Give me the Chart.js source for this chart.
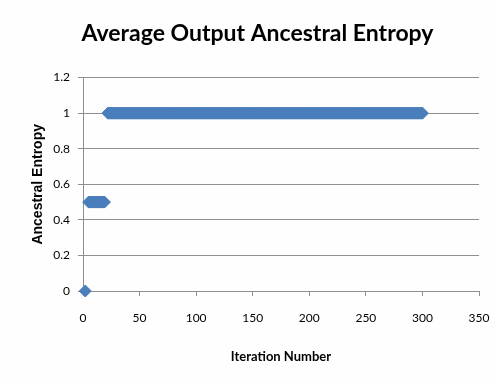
<!DOCTYPE html>
<html>
<head>
<meta charset="utf-8">
<script src="https://cdn.jsdelivr.net/npm/chart.js@4"></script>
<style>
html,body{margin:0;padding:0;background:#fdfefd;}
#wrap{width:495px;height:382px;}
</style>
</head>
<body>
<div id="wrap"><canvas id="c" width="495" height="382"></canvas></div>
<script>
const chartTitle = 'Average Output Ancestral Entropy';
const xAxisTitle = 'Iteration Number';
const yAxisTitle = 'Ancestral Entropy';

// entropy levels and the iterations at which each level is observed
const entropyLevels = [0, 0.5, 1];
const iterationsAtZero = [2];
const iterationsAtHalf = [5,6,7,8,9,10,11,12,13,14,15,16,17,18,19];
const iterationsAtOne = [
  22,23,24,25,26,27,28,29,30,31,32,33,34,35,36,37,38,39,40,41,
  42,43,44,45,46,47,48,49,50,51,52,53,54,55,56,57,58,59,60,61,
  62,63,64,65,66,67,68,69,70,71,72,73,74,75,76,77,78,79,80,81,
  82,83,84,85,86,87,88,89,90,91,92,93,94,95,96,97,98,99,100,101,
  102,103,104,105,106,107,108,109,110,111,112,113,114,115,116,117,118,119,120,121,
  122,123,124,125,126,127,128,129,130,131,132,133,134,135,136,137,138,139,140,141,
  142,143,144,145,146,147,148,149,150,151,152,153,154,155,156,157,158,159,160,161,
  162,163,164,165,166,167,168,169,170,171,172,173,174,175,176,177,178,179,180,181,
  182,183,184,185,186,187,188,189,190,191,192,193,194,195,196,197,198,199,200,201,
  202,203,204,205,206,207,208,209,210,211,212,213,214,215,216,217,218,219,220,221,
  222,223,224,225,226,227,228,229,230,231,232,233,234,235,236,237,238,239,240,241,
  242,243,244,245,246,247,248,249,250,251,252,253,254,255,256,257,258,259,260,261,
  262,263,264,265,266,267,268,269,270,271,272,273,274,275,276,277,278,279,280,281,
  282,283,284,285,286,287,288,289,290,291,292,293,294,295,296,297,298,299,300
];
const xTicks = [0, 50, 100, 150, 200, 250, 300, 350];
const yTicks = [0, 0.2, 0.4, 0.6, 0.8, 1, 1.2];

const groups = [iterationsAtZero, iterationsAtHalf, iterationsAtOne];
const points = [];
groups.forEach((its, i) => its.forEach(x => points.push({x: x, y: entropyLevels[i]})));

const FONT = 'Lato, "Open Sans", sans-serif';
const gridCol = '#8e8e8e';

new Chart(document.getElementById('c'), {
  type: 'scatter',
  data: {
    datasets: [{
      data: points,
      clip: false,
      pointStyle: 'rectRot',
      pointRadius: 6,
      pointHoverRadius: 6,
      borderWidth: 1,
      backgroundColor: '#4A7EBB',
      borderColor: '#4A7EBB'
    }]
  },
  options: {
    responsive: false,
    animation: false,
    events: [],
    layout: { padding: { left: 26, right: 6, top: 0, bottom: 13 } },
    plugins: {
      legend: { display: false },
      tooltip: { enabled: false },
      title: {
        display: true,
        text: chartTitle,
        color: '#000',
        font: { family: FONT, size: 23, weight: 'bold' },
        padding: { top: 20, bottom: 30 }
      }
    },
    scales: {
      x: {
        type: 'linear',
        min: 0, max: 350,
        afterBuildTicks: s => { s.ticks = xTicks.map(v => ({value: v})); },
        afterFit: s => { s.paddingRight = 16; s.paddingLeft = 0; },
        grid: { drawOnChartArea: false, drawTicks: true, tickLength: 5, color: gridCol },
        border: { color: gridCol },
        ticks: { color: '#000', font: { family: FONT, size: 12 }, padding: 15, maxRotation: 0 },
        title: { display: true, text: xAxisTitle, color: '#000', padding: { top: 9, bottom: 4 },
          font: { family: FONT, size: 13, weight: 'bold' } }
      },
      y: {
        type: 'linear',
        min: 0, max: 1.2,
        afterBuildTicks: s => { s.ticks = yTicks.map(v => ({value: v})); },
        afterFit: s => { s.width = 57; },
        grid: { color: gridCol, tickLength: 5 },
        border: { color: gridCol },
        ticks: { color: '#000', font: { family: FONT, size: 12 }, padding: 8,
          callback: v => String(+Number(v).toFixed(1)) },
        title: { display: true, text: yAxisTitle, color: '#000',
          font: { family: '"Liberation Sans", Arial, sans-serif', size: 14, weight: 'bold' } }
      }
    }
  }
});
</script>
</body>
</html>
